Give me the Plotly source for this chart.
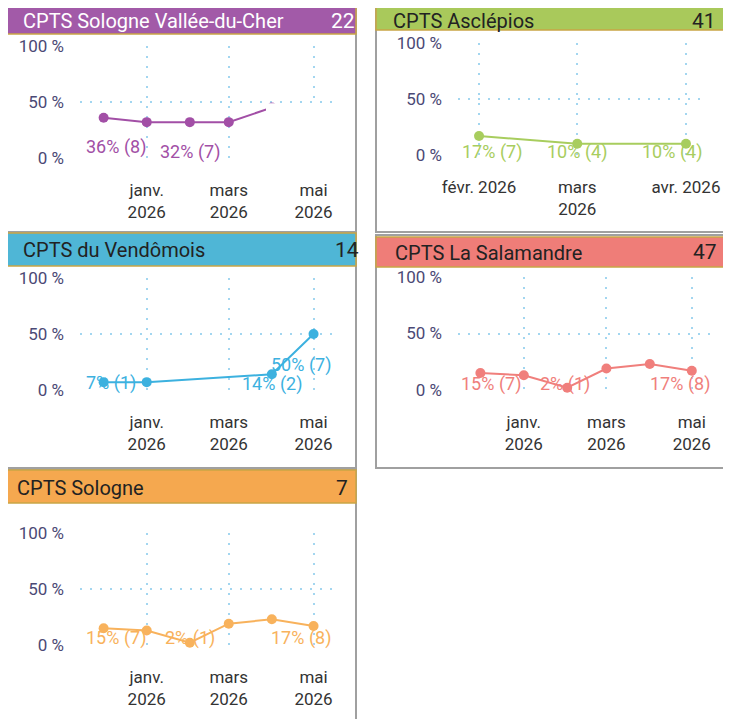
import plotly.graph_objects as go

# The page body adds an 8 px margin; the figure is sized and positioned to compensate.
PAGE_W, PAGE_H, OFF = 731, 719, 8
W, H = PAGE_W - OFF, PAGE_H - OFF

# ---------------- data ----------------
titles = ["CPTS Sologne Vallée-du-Cher", "CPTS Asclépios", "CPTS du Vendômois",
          "CPTS La Salamandre", "CPTS Sologne"]
totals = [22, 41, 14, 47, 7]

months_p1 = ["2025-12-01", "2026-01-01", "2026-02-01", "2026-03-01", "2026-04-01", "2026-05-01"]
pct_p1 = [36, 32, 32, 32, 45, 27]
n_p1 = [8, 7, 7, 7, 10, 6]

months_p2 = ["2026-02-01", "2026-03-01", "2026-04-01"]
pct_p2 = [17, 10, 10]
n_p2 = [7, 4, 4]

months_p3 = ["2025-12-01", "2026-01-01", "2026-04-01", "2026-05-01"]
pct_p3 = [7, 7, 14, 50]
n_p3 = [1, 1, 2, 7]

months_p4 = ["2025-12-01", "2026-01-01", "2026-02-01", "2026-03-01", "2026-04-01", "2026-05-01"]
pct_p4 = [15, 13, 2, 19, 23, 17]
n_p4 = [7, 6, 1, 9, 11, 8]

months_p5 = ["2025-12-01", "2026-01-01", "2026-02-01", "2026-03-01", "2026-04-01", "2026-05-01"]
pct_p5 = [15, 13, 2, 19, 23, 17]
n_p5 = [7, 6, 1, 9, 11, 8]

ticks_a = ["2026-01-01", "2026-03-01", "2026-05-01"]
ticktext_a = ["janv.<br>2026", "mars<br>2026", "mai<br>2026"]
ticks_b = ["2026-02-01", "2026-03-01", "2026-04-01"]
ticktext_b = ["févr. 2026", "mars<br>2026", "avr. 2026"]
ytickvals = [0, 50, 100]
yticktext = ["0 %", "50 %", "100 %"]

# ---------------- styles ----------------
FONT = "Roboto, 'Open Sans', sans-serif"
px = lambda v: (v - OFF) / W
py = lambda v: 1 - (v - OFF) / H

# title_xy / cnt_xy: (x, y, yanchor)
panels = [
    dict(months=months_p1, pct=pct_p1, n=n_p1, ticks=ticks_a, tt=ticktext_a,
         line="#a24fa6", head="#a25aa8", tcol="#ffffff",
         box=(2, -2, 356, 232), hbox=(2, 1, 356, 34), title_xy=(22, 8, "top"), cnt_xy=(356, 8, "top"),
         dom=(80, 46, 333, 158), xr=["2025-11-14", "2026-05-15"],
         labels=[(0, 10, 12), (2, 5, 0)]),
    dict(months=months_p2, pct=pct_p2, n=n_p2, ticks=ticks_b, tt=ticktext_b,
         line="#a8cd5e", head="#a9c95b", tcol="#222222",
         box=(376, -2, 740, 232), hbox=(376, -1, 740, 30), title_xy=(392, 8, "top"), cnt_xy=(717, 8, "top"),
         dom=(458, 43, 700, 155), xr=["2026-01-26", "2026-04-05"],
         labels=[(0, 3, 13), (1, 3, 0), (2, 3, -14)]),
    dict(months=months_p3, pct=pct_p3, n=n_p3, ticks=ticks_a, tt=ticktext_a,
         line="#3cb1df", head="#4fb6d6", tcol="#222222",
         box=(2, 233, 356, 468), hbox=(2, 233, 356, 266), title_xy=(22, 250, "middle"), cnt_xy=(360, 250, "middle"),
         dom=(80, 278, 333, 390), xr=["2025-11-14", "2026-05-15"],
         labels=[(0, 6, 7), (2, 5, 0), (3, 22, -13)]),
    dict(months=months_p4, pct=pct_p4, n=n_p4, ticks=ticks_a, tt=ticktext_a,
         line="#f07f7c", head="#ef7d78", tcol="#222222",
         box=(376, 235, 740, 468), hbox=(376, 237, 740, 267), title_xy=(394, 253, "middle"), cnt_xy=(718, 252, "middle"),
         dom=(458, 277, 710, 390), xr=["2025-11-15", "2026-05-14"],
         labels=[(0, 5, 11), (2, 5, -2), (5, 5, -12)]),
    dict(months=months_p5, pct=pct_p5, n=n_p5, ticks=ticks_a, tt=ticktext_a,
         line="#f8b25c", head="#f5a84f", tcol="#222222",
         box=(2, 469, 356, 730), hbox=(2, 470, 356, 503), title_xy=(16, 488, "middle"), cnt_xy=(349, 488, "middle"),
         dom=(80, 533, 333, 645), xr=["2025-11-14", "2026-05-15"],
         labels=[(0, 6, 12), (2, 6, 0), (5, 6, -13)]),
]

fig = go.Figure()
shapes = []
annotations = []
layout = {}

for i, p in enumerate(panels):
    k = i + 1
    xa = "x" if k == 1 else f"x{k}"
    ya = "y" if k == 1 else f"y{k}"
    x0, y0, x1, y1 = p["dom"]
    grid = dict(showgrid=True, gridcolor="#a3d6f0", griddash="2px,8px", gridwidth=2,
                zeroline=False, showline=False, ticks="", fixedrange=True, automargin=False)
    layout["xaxis" if k == 1 else f"xaxis{k}"] = dict(
        domain=[px(x0), px(x1)], anchor=ya, type="date", range=p["xr"],
        tickmode="array", tickvals=p["ticks"], ticktext=p["tt"], tickangle=0,
        tickfont=dict(family=FONT, size=17, color="#333333"), ticklabelstandoff=20, **grid)
    layout["yaxis" if k == 1 else f"yaxis{k}"] = dict(
        domain=[py(y1), py(y0)], anchor=xa, range=[0, 100],
        tickmode="array", tickvals=ytickvals, ticktext=yticktext,
        tickfont=dict(family=FONT, size=17, color="#4b4975"), ticklabelstandoff=15, **grid)

    fig.add_trace(go.Scatter(
        x=p["months"], y=p["pct"], mode="lines+markers", xaxis=xa, yaxis=ya,
        line=dict(color=p["line"], width=2), marker=dict(color=p["line"], size=10),
        cliponaxis=False, showlegend=False, hoverinfo="skip"))

    for (idx, ly, xs) in p["labels"]:
        annotations.append(dict(
            x=p["months"][idx], y=ly, xref=xa, yref=ya, xshift=xs,
            text=f"{p['pct'][idx]}% ({p['n'][idx]})", showarrow=False,
            font=dict(family=FONT, size=18, color=p["line"])))

    bx0, by0, bx1, by1 = p["box"]
    shapes.append(dict(type="rect", xref="paper", yref="paper",
                       x0=px(bx0), x1=px(bx1), y0=py(by1), y1=py(by0),
                       line=dict(color="#a0a0a0", width=2), fillcolor="rgba(0,0,0,0)", layer="below"))
    hx0, hy0, hx1, hy1 = p["hbox"]
    shapes.append(dict(type="rect", xref="paper", yref="paper",
                       x0=px(hx0), x1=px(hx1), y0=py(hy1), y1=py(hy0),
                       line=dict(color="#c9a545", width=1.5), fillcolor=p["head"], layer="below"))
    tx, ty, tya = p["title_xy"]
    annotations.append(dict(x=px(tx), y=py(ty), xref="paper", yref="paper",
                            xanchor="left", yanchor=tya, showarrow=False, borderpad=0,
                            text=titles[i], font=dict(family=FONT, size=20, color=p["tcol"])))
    cx, cy, cya = p["cnt_xy"]
    annotations.append(dict(x=px(cx), y=py(cy), xref="paper", yref="paper",
                            xanchor="right", yanchor=cya, showarrow=False, borderpad=0,
                            text=str(totals[i]), font=dict(family=FONT, size=21, color=p["tcol"])))

# rendering glitch in the first panel (part of the plot area left blank)
shapes.append(dict(type="rect", xref="paper", yref="paper",
                   x0=px(266), x1=px(328), y0=py(167), y1=py(103.2),
                   line=dict(width=0), fillcolor="#ffffff", layer="above"))

fig.update_layout(
    width=W, height=H, margin=dict(l=0, r=0, t=0, b=0, autoexpand=False),
    paper_bgcolor="#ffffff", plot_bgcolor="#ffffff",
    shapes=shapes, annotations=annotations, showlegend=False,
    font=dict(family=FONT), **layout)

fig.write_html("out.html")
